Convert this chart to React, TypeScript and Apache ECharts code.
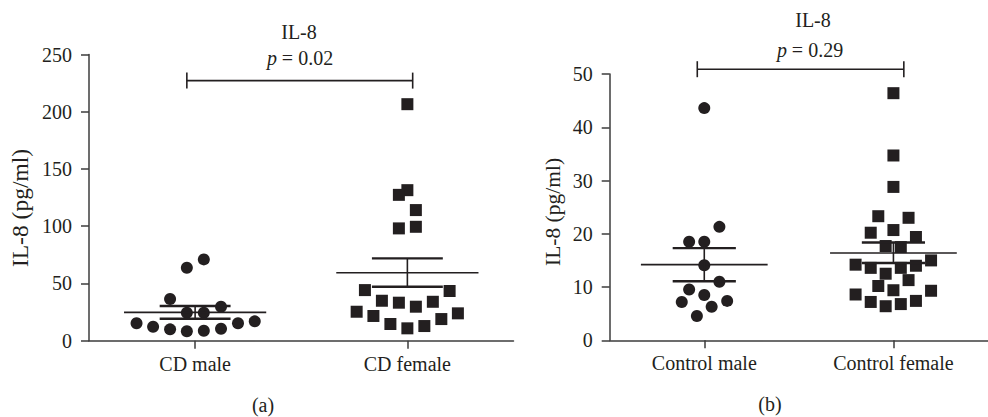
import React, { useEffect, useRef } from "react";
import * as echarts from "echarts";

// ---------- data ----------
const leftCategories = ["CD male", "CD female"];
const rightCategories = ["Control male", "Control female"];

const cdMaleValues = [15.2, 12.2, 9.9, 8.2, 8.7, 10.5, 15.2, 16.9, 36.4, 24.4, 24.4, 29.7, 63.7, 71.0];
const cdMaleJitter = [-0.276, -0.198, -0.118, -0.039, 0.041, 0.122, 0.202, 0.281, -0.118, -0.039, 0.041, 0.122, -0.039, 0.041];

const cdFemaleValues = [131.5, 127.4, 114.1, 98.1, 99.5, 206.6, 44.2, 43.4, 34.9, 33.2, 29.7, 34.0, 25.3, 21.6, 14.6, 10.8, 12.8, 18.9, 23.9];
const cdFemaleJitter = [0, -0.04, 0.04, -0.04, 0.04, 0, -0.2, 0.199, -0.12, -0.04, 0.04, 0.12, -0.239, -0.16, -0.08, 0, 0.08, 0.16, 0.238];

const ctrlMaleValues = [18.5, 18.5, 21.3, 14.1, 9.55, 11.0, 8.5, 7.2, 7.4, 6.3, 4.55, 43.6];
const ctrlMaleJitter = [-0.08, 0, 0.08, 0, -0.08, 0.08, 0, -0.119, 0.121, 0.039, -0.039, 0];

const ctrlFemaleValues = [46.4, 34.7, 28.8, 23.3, 23.0, 20.2, 20.7, 19.4, 17.7, 17.5, 14.2, 13.6, 13.6, 14.0, 15.0, 12.5, 11.3, 10.2, 9.4, 8.6, 9.3, 7.2, 6.4, 6.8, 7.4];
const ctrlFemaleJitter = [0, 0, 0, -0.08, 0.08, -0.12, 0, 0.119, -0.041, 0.039, -0.2, -0.12, 0.039, 0.119, 0.199, -0.041, 0.08, -0.08, 0, -0.2, 0.199, -0.12, -0.041, 0.039, 0.119];

// mean and SEM
const leftMean = [24.7, 59.3];
const leftSemLow = [19.2, 47.1];
const leftSemHigh = [30.3, 71.9];
const rightMean = [14.2, 16.4];
const rightSemLow = [11.1, 14.5];
const rightSemHigh = [17.3, 18.35];

// significance brackets: [xStart, xEnd, y]
const leftBracket = [0.961, 2.025, 227.2];
const rightBracket = [0.963, 2.055, 50.9];
const leftP = "0.02";
const rightP = "0.29";
const panelTitle = "IL-8";
const yTitle = "IL-8 (pg/ml)";

const leftYMax = 250;
const leftYInterval = 50;
const rightYMax = 50;
const rightYInterval = 10;

// ---------- styles ----------
const INK = "#231f20";
const AXIS = "#3d3d3d";
const FONT = "Liberation Serif";
const MEAN_HALF = 0.335;
const WHISK_HALF = 0.167;

function jittered(center: number, offs: number[], vals: number[]) {
  return vals.map((v, i) => [center + offs[i], v]);
}

function meanSemRender(params: any, api: any) {
  const x = api.value(0);
  const m = api.value(1);
  const lo = api.value(2);
  const hi = api.value(3);
  const c = (a: number, b: number) => api.coord([a, b]);
  const seg = (p1: number[], p2: number[], w: number) => ({
    type: "line",
    shape: { x1: p1[0], y1: p1[1], x2: p2[0], y2: p2[1] },
    style: { stroke: INK, lineWidth: w },
  });
  return {
    type: "group",
    children: [
      seg(c(x - MEAN_HALF, m), c(x + MEAN_HALF, m), 1.6),
      seg(c(x, lo), c(x, hi), 1.6),
      seg(c(x - WHISK_HALF, hi), c(x + WHISK_HALF, hi), 2.4),
      seg(c(x - WHISK_HALF, lo), c(x + WHISK_HALF, lo), 2.4),
    ],
  };
}

function bracketRender(params: any, api: any) {
  const x1 = api.value(0);
  const x2 = api.value(1);
  const y = api.value(2);
  const a = api.coord([x1, y]);
  const b = api.coord([x2, y]);
  const st = { stroke: INK, lineWidth: 1.6 };
  return {
    type: "group",
    children: [
      { type: "line", shape: { x1: a[0], y1: a[1], x2: b[0], y2: b[1] }, style: st },
      { type: "line", shape: { x1: a[0], y1: a[1] - 8, x2: a[0], y2: a[1] + 8 }, style: st },
      { type: "line", shape: { x1: b[0], y1: b[1] - 8, x2: b[0], y2: b[1] + 8 }, style: st },
    ],
  };
}

function xAxisCfg(gridIndex: number, cats: string[], max: number) {
  return {
    type: "value",
    gridIndex,
    min: 0.5,
    max,
    splitLine: { show: false },
    axisLine: { show: true, onZero: false, lineStyle: { color: AXIS, width: 1.5 } },
    axisTick: { show: true, length: 8, customValues: [1, 2], lineStyle: { color: AXIS, width: 1.5 } },
    axisLabel: {
      show: true,
      customValues: [1, 2],
      formatter: (v: number) => cats[Math.round(v) - 1] ?? "",
      margin: 13,
      color: INK,
      fontFamily: FONT,
      fontSize: 20,
    },
  };
}

function yAxisCfg(gridIndex: number, max: number, interval: number) {
  return {
    type: "value",
    gridIndex,
    min: 0,
    max,
    interval,
    splitLine: { show: false },
    axisLine: { show: true, lineStyle: { color: AXIS, width: 1.5 } },
    axisTick: { show: true, length: 8, lineStyle: { color: AXIS, width: 1.5 } },
    axisLabel: { margin: 17, color: INK, fontFamily: FONT, fontSize: 20 },
  };
}

function scatter(xi: number, data: number[][], symbol: string) {
  return {
    type: "scatter",
    xAxisIndex: xi,
    yAxisIndex: xi,
    data,
    symbol,
    symbolSize: 12,
    itemStyle: { color: INK, opacity: 1 },
    z: 3,
  };
}

function txt(x: number, y: number, text: string, size: number, rotation = 0) {
  return {
    type: "text",
    x,
    y,
    rotation,
    style: {
      text,
      fill: INK,
      fontFamily: FONT,
      fontSize: size,
      align: "center",
      verticalAlign: "middle",
      rich: {
        i: { fontStyle: "italic", fontFamily: FONT, fontSize: size, fill: INK },
      },
    },
  };
}

export default function App() {
  const ref = useRef<HTMLDivElement>(null);
  useEffect(() => {
    if (!ref.current) return;
    const chart = echarts.init(ref.current, null, { renderer: "svg" });
    const option: any = {
      animation: false,
      backgroundColor: "#ffffff",
      textStyle: { fontFamily: FONT },
      grid: [
        { left: 89, top: 54.5, width: 424.5, height: 286.2, containLabel: false },
        { left: 609.7, top: 74, width: 392, height: 266.3, containLabel: false },
      ],
      xAxis: [xAxisCfg(0, leftCategories, 2.5), xAxisCfg(1, rightCategories, 2.5)],
      yAxis: [yAxisCfg(0, leftYMax, leftYInterval), yAxisCfg(1, rightYMax, rightYInterval)],
      series: [
        scatter(0, jittered(1, cdMaleJitter, cdMaleValues), "circle"),
        scatter(0, jittered(2, cdFemaleJitter, cdFemaleValues), "rect"),
        scatter(1, jittered(1, ctrlMaleJitter, ctrlMaleValues), "circle"),
        scatter(1, jittered(2, ctrlFemaleJitter, ctrlFemaleValues), "rect"),
        {
          type: "custom",
          xAxisIndex: 0,
          yAxisIndex: 0,
          renderItem: meanSemRender,
          data: leftMean.map((m, i) => [i + 1, m, leftSemLow[i], leftSemHigh[i]]),
          encode: { x: 0, y: [1, 2, 3] },
          z: 4,
          clip: false,
        },
        {
          type: "custom",
          xAxisIndex: 1,
          yAxisIndex: 1,
          renderItem: meanSemRender,
          data: rightMean.map((m, i) => [i + 1, m, rightSemLow[i], rightSemHigh[i]]),
          encode: { x: 0, y: [1, 2, 3] },
          z: 4,
          clip: false,
        },
        {
          type: "custom",
          xAxisIndex: 0,
          yAxisIndex: 0,
          renderItem: bracketRender,
          data: [leftBracket],
          encode: { x: [0, 1], y: 2 },
          clip: false,
        },
        {
          type: "custom",
          xAxisIndex: 1,
          yAxisIndex: 1,
          renderItem: bracketRender,
          data: [rightBracket],
          encode: { x: [0, 1], y: 2 },
          clip: false,
        },
      ],
      graphic: [
        txt(299, 32, panelTitle, 20),
        txt(300, 58, "{i|p} = " + leftP, 20),
        txt(813, 20, panelTitle, 20),
        txt(810, 50, "{i|p} = " + rightP, 20),
        txt(19.5, 208, yTitle, 23.5, Math.PI / 2),
        txt(553, 212, yTitle, 21.5, Math.PI / 2),
        txt(263, 405, "(a)", 20),
        txt(770, 404, "(b)", 20),
      ],
    };
    chart.setOption(option);
    return () => chart.dispose();
  }, []);
  return (
    <div
      ref={ref}
      style={{ position: "fixed", left: 0, top: 0, width: 988, height: 417, background: "#fff" }}
    />
  );
}
